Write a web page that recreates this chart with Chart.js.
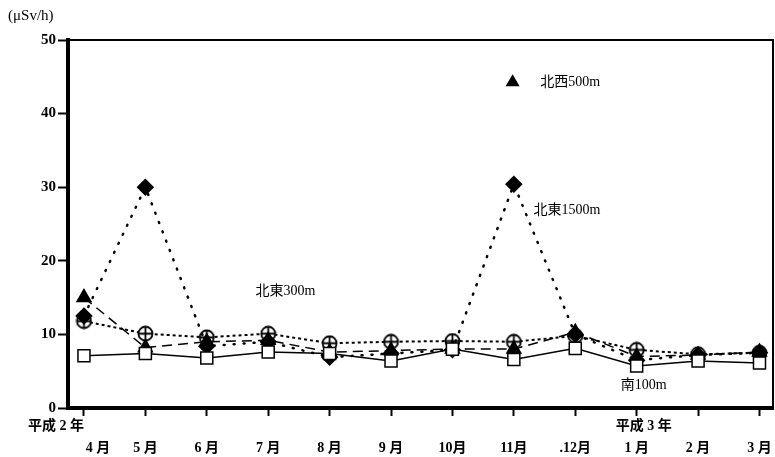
<!DOCTYPE html>
<html>
<head>
<meta charset="utf-8">
<script src="https://cdn.jsdelivr.net/npm/chart.js@4/dist/chart.umd.min.js"></script>
<style>
  body { margin: 0; background: #fff; }
  #wrap { width: 775px; height: 457px; position: relative; }
</style>
</head>
<body>
<div id="wrap"><canvas id="dose-chart"></canvas></div>
<script>
// month labels (平成2年4月 .. 平成3年3月)
const months = ["\u3000\u30004 月", "5 月", "6 月", "7 月", "8 月", "9 月", "10月", "11月", ".12月", "1 月", "2 月", "3 月"];
// year captions; ideographic spaces nudge them off the tick centre like the original
const yearLabels = { 0: "平成 2 年\u3000\u3000\u3000\u3000", 9: "\u3000平成 3 年" };

// monthly values, μSv/h
const south100 = [7.1, 7.4, 6.8, 7.6, 7.4, 6.4, 8.0, 6.6, 8.1, 5.7, 6.4, 6.1];
const northeast300 = [11.8, 10.1, 9.6, 10.1, 8.8, 9.0, 9.1, 9.0, 9.8, 7.9, 7.3, 7.5];
const northwest500 = [15.0, 8.2, 9.0, 9.2, 7.6, 7.8, 8.0, 8.0, 10.3, 7.0, 7.2, 7.6];
const northeast1500 = [12.5, 30.0, 8.4, 9.0, 6.9, 7.4, 7.9, 30.4, 10.0, 6.5, 7.2, 7.5];

const yTicks = [0, 10, 20, 30, 40, 50];

const serif = "'Liberation Serif', 'Noto Sans CJK JP', serif";

function toPoints(arr) {
  return arr.map((v, i) => ({ x: i, y: v }));
}

// circle with a cross in it (no built-in style for this)
function circleCross() {
  const c = document.createElement("canvas");
  c.width = 17; c.height = 17;
  const g = c.getContext("2d");
  g.fillStyle = "#fff";
  g.strokeStyle = "#000";
  g.lineWidth = 1.8;
  g.beginPath();
  g.arc(8.5, 8.5, 7, 0, Math.PI * 2);
  g.fill();
  g.stroke();
  g.beginPath();
  g.moveTo(8.5, 1.5); g.lineTo(8.5, 15.5);
  g.moveTo(1.5, 8.5); g.lineTo(15.5, 8.5);
  g.stroke();
  return c;
}

// frame on top/right + series name labels
const extras = {
  id: "extras",
  afterDatasetsDraw(chart) {
    const { ctx, chartArea: a, scales } = chart;
    const x = scales.x, y = scales.y;
    ctx.save();
    ctx.strokeStyle = "#000";
    ctx.lineWidth = 2;
    ctx.beginPath();
    ctx.moveTo(a.left, a.top);
    ctx.lineTo(a.right, a.top);
    ctx.lineTo(a.right, a.bottom);
    ctx.stroke();

    ctx.fillStyle = "#000";
    ctx.font = "14px " + serif;
    ctx.textBaseline = "middle";
    ctx.textAlign = "center";
    ctx.fillText("北東300m", x.getPixelForValue(3.28), y.getPixelForValue(15.9));
    ctx.textAlign = "left";
    ctx.fillText("北西500m", x.getPixelForValue(7.43), y.getPixelForValue(44.2));
    ctx.fillText("北東1500m", x.getPixelForValue(7.32), y.getPixelForValue(26.9));
    ctx.fillText("南100m", x.getPixelForValue(8.74), y.getPixelForValue(3.1));

    // key marker next to 北西500m
    const tx = x.getPixelForValue(6.98), ty = y.getPixelForValue(44.4);
    ctx.beginPath();
    ctx.moveTo(tx, ty - 7);
    ctx.lineTo(tx + 7, ty + 5);
    ctx.lineTo(tx - 7, ty + 5);
    ctx.closePath();
    ctx.fill();
    ctx.restore();
  }
};

const config = {
  type: "line",
  data: {
    datasets: [
      {
        label: "南100m",
        data: toPoints(south100),
        borderColor: "#000",
        borderWidth: 1.5,
        pointStyle: "rect",
        pointRadius: 8.5,
        pointBackgroundColor: "#fff",
        pointBorderColor: "#000",
        pointBorderWidth: 1.5,
      },
      {
        label: "北西500m",
        data: toPoints(northwest500),
        borderColor: "#000",
        borderWidth: 1.5,
        borderDash: [10, 6],
        pointStyle: "triangle",
        pointRadius: 8,
        pointBackgroundColor: "#000",
        pointBorderColor: "#000",
      },
      {
        label: "北東1500m",
        data: toPoints(northeast1500),
        borderColor: "#000",
        borderWidth: 2.5,
        borderDash: [1, 9],
        borderCapStyle: "round",
        pointStyle: "rectRot",
        pointRadius: 7,
        pointBackgroundColor: "#000",
        pointBorderColor: "#000",
      },
      {
        label: "北東300m",
        data: toPoints(northeast300),
        borderColor: "#000",
        borderWidth: 2,
        borderDash: [3, 3],
        pointStyle: circleCross(),
        pointRadius: 7,
      },
    ],
  },
  options: {
    responsive: true,
    maintainAspectRatio: false,
    animation: false,
    layout: { autoPadding: false, padding: { left: 8, right: 2, top: 4, bottom: 0 } },
    plugins: {
      legend: { display: false },
      tooltip: { enabled: false },
      title: {
        display: true,
        text: "(μSv/h)",
        align: "start",
        color: "#000",
        font: { family: serif, size: 15, weight: "normal" },
        padding: { top: 3, bottom: 15 },
      },
    },
    scales: {
      x: {
        type: "linear",
        min: -0.26,
        max: 11.22,
        afterBuildTicks: (scale) => {
          scale.ticks = months.map((m, i) => ({ value: i }));
        },
        afterFit: (scale) => { scale.height = 49; },
        ticks: {
          autoSkip: false,
          maxRotation: 0,
          color: "#000",
          padding: 0,
          font: { family: serif, size: 14, weight: "bold", lineHeight: 1.55 },
          callback: (v) => [yearLabels[v] || "", months[v]],
        },
        grid: {
          drawOnChartArea: false,
          drawTicks: true,
          tickLength: 8,
          tickColor: "#000",
          tickWidth: 2,
        },
        border: { display: true, color: "#000", width: 4 },
      },
      y: {
        min: 0,
        max: 50,
        afterBuildTicks: (scale) => {
          scale.ticks = yTicks.map((v) => ({ value: v }));
        },
        afterFit: (scale) => { scale.width = 60; },
        ticks: {
          color: "#000",
          padding: 2,
          font: { family: serif, size: 15, weight: "bold" },
        },
        grid: {
          drawOnChartArea: false,
          drawTicks: true,
          tickLength: 10,
          tickColor: "#000",
          tickWidth: 2,
        },
        border: { display: true, color: "#000", width: 4 },
      },
    },
  },
  plugins: [extras],
};

const ctx = document.getElementById("dose-chart").getContext("2d");
window.doseChart = new Chart(ctx, config);
</script>
</body>
</html>
